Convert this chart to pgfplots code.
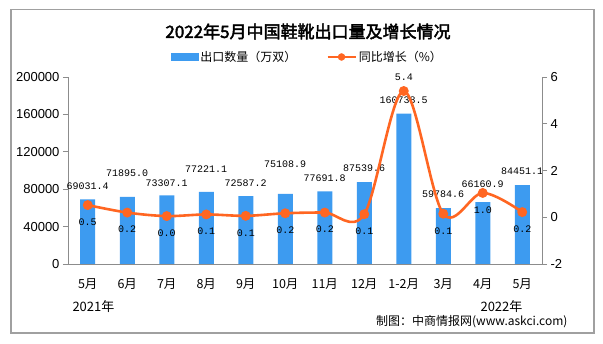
\documentclass[border=0pt]{standalone}
\usepackage{pgfplots}
\pgfplotsset{compat=1.18}
\usepackage{pgfplotstable}
\usepackage{fontspec}
\setmainfont{Liberation Sans}
\newfontfamily\cjk[AutoFakeBold=2.5]{Noto Sans CJK SC}
\newfontfamily\labfont{Liberation Mono}
\definecolor{barblue}{HTML}{3D9BF0}
\definecolor{lineorange}{HTML}{FF6622}
\definecolor{axgray}{HTML}{8C8C8C}
\definecolor{framegray}{HTML}{A0A0A0}

\pgfplotstableread{
x val
0 69031.4
1 71895.0
2 73307.1
3 77221.1
4 72587.2
5 75108.9
6 77691.8
7 87539.6
8 160738.5
9 59784.6
10 66160.9
11 84451.1
}\bardata

\pgfplotstableread{
x ypos lab
0 83300 69031.4
1 97500 71895.0
2 86900 73307.1
3 101000 77221.1
4 86900 72587.2
5 106400 75108.9
6 92200 77691.8
7 102800 87539.6
8 175500 160738.5
9 74500 59784.6
10 85100 66160.9
11 99300 84451.1
}\barlabels

\pgfplotstableread{
x pct lab
0 0.52 0.5
1 0.20 0.2
2 0.05 0.0
3 0.12 0.1
4 0.06 0.1
5 0.17 0.2
6 0.20 0.2
7 0.13 0.1
8 5.40 5.4
9 0.15 0.1
10 1.04 1.0
11 0.22 0.2
}\linedata

\begin{document}
\begin{tikzpicture}[x=1pt,y=1pt]
\path[use as bounding box] (0,0) rectangle (603,344);
\draw[framegray, line width=1.2pt] (11,334.5) rectangle (594,11);

\node at (308,312.5) {\cjk\fontsize{17}{17}\selectfont\bfseries 2022年5月中国鞋靴出口量及增长情况};

\begin{axis}[
  at={(68pt,80pt)}, anchor=south west,
  scale only axis, width=474pt, height=187pt,
  xmin=-0.5, xmax=11.5, ymin=0, ymax=200000,
  axis x line*=bottom, axis y line*=left,
  axis line style={axgray, line width=0.8pt},
  ytick={0,40000,...,200000},
  scaled y ticks=false,
  yticklabel style={/pgf/number format/.cd, fixed, 1000 sep={}, assume math mode=true},
  tick label style={font=\fontsize{13}{13}\selectfont},
  xtick={0,...,11},
  xticklabels={5月,6月,7月,8月,9月,10月,11月,12月,1-2月,3月,4月,5月},
  xticklabel style={font=\cjk\fontsize{12.5}{12.5}\selectfont, yshift=-6pt},
  x tick style={draw=none},
  extra x ticks={-0.5,0.5,...,11.5},
  extra x tick labels={},
  extra x tick style={tick style={axgray, line width=0.8pt, draw=axgray}, major tick length=5pt},
  tick align=outside,
  y tick style={axgray, line width=0.8pt},
  major tick length=5pt,
  clip=false,
]
\addplot[ybar, bar width=15pt, fill=barblue, draw=none] table[x=x, y=val] {\bardata};
\addplot[draw=none, mark=none, nodes near coords, point meta=explicit symbolic,
  nodes near coords style={anchor=center, font=\labfont\fontsize{10}{10}\selectfont, text=black}]
  table[x=x, y=ypos, meta=lab] {\barlabels};
\end{axis}

\begin{axis}[
  at={(68pt,80pt)}, anchor=south west,
  scale only axis, width=474pt, height=187pt,
  xmin=-0.5, xmax=11.5, ymin=-2, ymax=6,
  axis x line=none, axis y line*=right,
  axis line style={axgray, line width=0.8pt},
  ytick={-2,0,...,6},
  yticklabel style={/pgf/number format/assume math mode=true},
  tick label style={font=\fontsize{13}{13}\selectfont},
  tick align=outside,
  y tick style={axgray, line width=0.8pt},
  major tick length=5pt,
  clip=false,
  legend style={at={(0.505,1.107)}, anchor=center, draw=none, fill=none,
    legend columns=2, font=\cjk\fontsize{12}{12}\selectfont,
    /tikz/every even column/.append style={column sep=28pt}},
  legend image code/.code={},
]
\addlegendimage{legend image code/.code={\fill[barblue] (0pt,-3.5pt) rectangle (27pt,3.5pt);}}
\addlegendentry{出口数量（万双）}
\addlegendimage{legend image code/.code={\draw[lineorange, line width=2.5pt] (0pt,0pt) -- (28pt,0pt); \fill[lineorange] (14pt,0pt) circle (3.5pt);}}
\addlegendentry{同比增长（\%）}
\addplot[smooth, tension=0.55, lineorange, line width=2.6pt, mark=*, mark size=3.6pt,
  mark options={fill=lineorange, draw=lineorange},
  nodes near coords, point meta=explicit symbolic,
  nodes near coords style={anchor=center, yshift=-17pt, font=\labfont\fontsize{10}{10}\selectfont, text=black},
  coordinate style/.condition={y>3}{yshift=31pt},
] table[x=x, y=pct, meta=lab] {\linedata};
\end{axis}

\node[anchor=west] at (69,37.5) {\cjk\fontsize{13}{13}\selectfont 2021年};
\node[anchor=west] at (477,37.5) {\cjk\fontsize{13}{13}\selectfont 2022年};
\node[anchor=east] at (571,22) {\cjk\fontsize{12}{12}\selectfont 制图：中商情报网(www.askci.com)};
\end{tikzpicture}
\end{document}
